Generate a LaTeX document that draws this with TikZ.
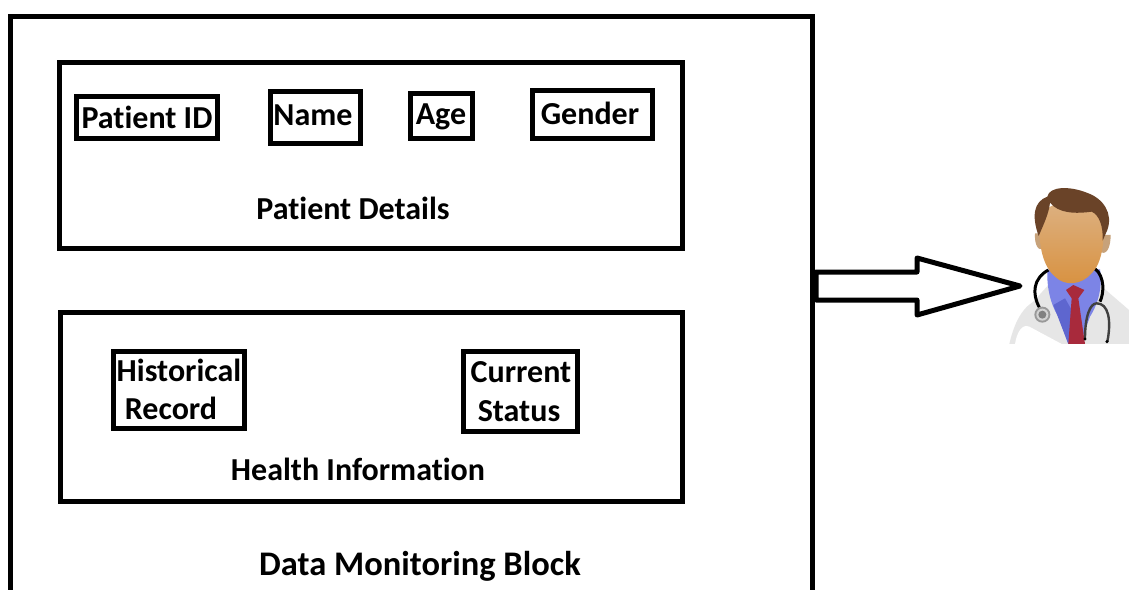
\documentclass[tikz,border=0pt]{standalone}
\usepackage{fontspec}
\setmainfont{Carlito}[BoldFont={Carlito Bold},Ligatures=NoCommon]
\usetikzlibrary{calc}
\tikzset{
  frame/.style={draw=black,line width=5pt,minimum width=0pt,minimum height=0pt,inner sep=0pt,anchor=center},
  lab/.style={font=\fontsize{32}{32}\selectfont\bfseries,inner sep=0pt,anchor=center,text=black}
}
\definecolor{hair}{HTML}{6A4328}
\definecolor{hairdk}{HTML}{4A2D1A}
\definecolor{skintop}{HTML}{DDB488}
\definecolor{skinbot}{HTML}{D8913F}
\definecolor{shirt}{HTML}{7C84E6}
\definecolor{shirtdk}{HTML}{5E66CF}
\definecolor{tie}{HTML}{A82A3C}
\definecolor{coat}{HTML}{E6E6E6}
\newcommand{\boxat}[5]{\node[frame,minimum width=#4pt,minimum height=#5pt] (#1) at (#2,#3) {};}
\begin{document}
\begin{tikzpicture}[x=1pt,y=-1pt]
\useasboundingbox (0,0) rectangle (1129,589);
\clip (0,0) rectangle (1129,589);
\fill[white] (0,0) rectangle (1129,589);
\boxat{outer}{411.5}{340}{802}{647}
\boxat{details}{370.5}{155.5}{623}{186}
\boxat{health}{371.5}{406.5}{622}{189}
\boxat{pid}{147}{117}{141}{42}
\boxat{namebox}{315}{117}{90}{52}
\boxat{agebox}{441}{115.5}{62}{45}
\boxat{genderbox}{592}{114}{120}{48}
\boxat{histbox}{178.5}{389.5}{131}{77}
\boxat{currbox}{520}{391}{114}{80}
\node[lab] (t1) at (147,117) {Patient ID};
\node[lab] (t2) at (313,115) {Name};
\node[lab] (t3) at (441,116.5) {Age};
\node[lab] (t4) at (590,113) {Gender};
\node[lab] (t5) at (353,208) {Patient Details};
\node[lab] (t6) at (179,370) {Historical};
\node[lab] (t7) at (171,408) {Record};
\node[lab] (t8) at (521,372) {Current};
\node[lab] (t9) at (519,411) {Status};
\node[lab] (t10) at (358,469) {Health Information};
\node[lab,font=\fontsize{34.5}{34.5}\selectfont\bfseries] (t11) at (420,566) {Data Monitoring Block};
% doctor
\begin{scope}[shift={(990,170)},x=0.3333pt,y=-0.3333pt]
\coordinate (tip) at (90,348);
\begin{scope}
\clip (0,0) rectangle (417,522);
\fill[coat] (58,522) .. controls (70,470) and (90,420) .. (130,395) -- (175,345) -- (330,345) -- (417,420) -- (417,522) -- cycle;
\fill[white] (75,522) .. controls (80,490) and (95,460) .. (118,470) -- (215,522) -- cycle;
\fill[shirt] (172,298) -- (330,298) .. controls (338,350) and (325,400) .. (300,440) -- (270,522) -- (235,522) -- (205,440) .. controls (180,400) and (170,350) .. (172,298) -- cycle;
\fill[shirtdk] (190,405) -- (225,385) -- (245,420) -- (245,522) -- (235,522) -- cycle;
\fill[tie] (228,360) -- (250,345) -- (283,360) -- (265,385) -- (285,522) -- (235,522) -- (245,385) -- cycle;
\draw[black,line width=3pt] (175,300) .. controls (130,325) and (125,370) .. (148,412);
\draw[black,line width=3pt] (315,296) .. controls (345,320) and (342,370) .. (330,395);
\draw[line width=2.4pt,black!75] (352,515) .. controls (365,450) and (355,400) .. (320,400) .. controls (300,400) and (285,440) .. (285,505);
\fill[black] (285,507) circle (5) (351,515) circle (5);
\fill[gray!80] (157,434) circle (24);
\fill[gray!35] (157,434) circle (18);
\fill[gray] (157,434) circle (12);
\end{scope}
\fill[skintop!90!black] (135,190) .. controls (133,225) and (145,245) .. (160,235) -- (160,190) -- cycle;
\fill[skintop!90!black] (362,195) .. controls (362,235) and (348,258) .. (330,245) -- (330,195) -- cycle;
\shade[top color=skintop,bottom color=skinbot] (148,150) .. controls (145,230) and (160,290) .. (195,320) .. controls (225,350) and (275,345) .. (305,310) .. controls (335,280) and (345,220) .. (340,140) .. controls (320,70) and (165,80) .. (148,150) -- cycle;
\fill[hair] (146,198) .. controls (125,140) and (130,95) .. (172,80) .. controls (178,48) and (240,48) .. (290,68) .. controls (340,85) and (370,130) .. (352,180) -- (338,212) .. controls (340,170) and (328,135) .. (305,125) .. controls (255,132) and (205,130) .. (180,98) .. controls (177,130) and (160,165) .. (146,198) -- cycle;
\end{scope}
% block arrow
\draw[black,line width=5pt,line join=round,fill=white]
  ([xshift=1pt]outer.east |- 0,272) -- (917,272) -- (917,258) -- (tip) -- (917,315) -- (917,300) -- ([xshift=1pt]outer.east |- 0,300) -- cycle;
\end{tikzpicture}
\end{document}
